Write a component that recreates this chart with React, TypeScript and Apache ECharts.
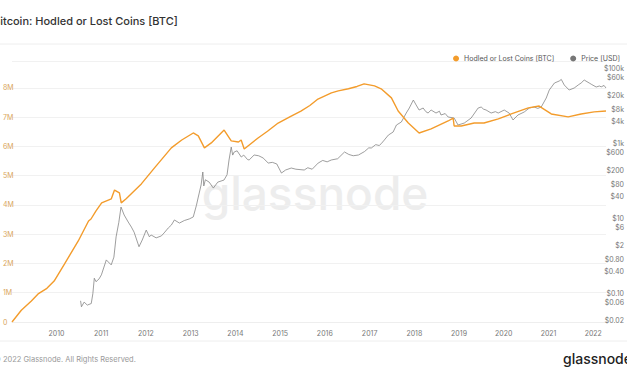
import React, { useEffect, useRef } from "react";
import * as echarts from "echarts";

const hodledDates = [
  "2009-01-03","2009-03-20","2009-06-10","2009-08-04","2009-10-15","2009-12-13","2010-03-07","2010-06-28","2010-09-20",
  "2010-10-10","2010-11-20","2011-01-05","2011-03-25","2011-04-20","2011-05-30","2011-06-14","2011-07-24","2011-11-25",
  "2012-03-10","2012-07-27","2012-10-20","2013-01-22","2013-03-04","2013-04-23","2013-06-18","2013-10-01",
  "2013-11-28","2014-01-26","2014-02-17","2014-03-14","2014-07-05","2014-09-20","2014-12-16","2015-03-25","2015-06-20",
  "2015-09-01","2015-11-06","2016-02-24","2016-04-20","2016-07-12","2016-09-20","2016-11-17","2017-02-10","2017-04-05","2017-06-28",
  "2017-08-22","2017-11-13","2018-02-09","2018-05-18","2018-10-04","2018-11-14","2018-11-22",
  "2019-01-19","2019-05-05","2019-07-24","2019-11-18","2020-03-03","2020-07-20","2020-10-16",
  "2021-01-23","2021-06-10","2021-09-24","2022-01-08","2022-04-15"
];
const hodledValues = [
  0, 0.40, 0.72, 0.96, 1.15, 1.40, 1.98, 2.77, 3.45,
  3.52, 3.80, 4.07, 4.21, 4.51, 4.41, 4.07, 4.21, 4.72,
  5.26, 5.95, 6.22, 6.46, 6.36, 5.95, 6.12, 6.56,
  6.19, 6.15, 6.22, 5.91, 6.29, 6.52, 6.80, 7.02, 7.21,
  7.40, 7.62, 7.83, 7.90, 7.97, 8.05, 8.14, 8.07, 7.97, 7.66,
  7.21, 6.80, 6.46, 6.60, 6.87, 6.97, 6.70,
  6.70, 6.80, 6.80, 6.94, 7.11, 7.32, 7.38,
  7.11, 7.01, 7.11, 7.18, 7.21
]; // millions of BTC

const priceDates = [
  "2010-07-17","2010-07-24","2010-08-15","2010-09-10","2010-10-12","2010-10-25","2010-11-06","2010-11-20","2010-12-15",
  "2011-01-03","2011-02-12","2011-03-24","2011-04-15","2011-05-03","2011-05-25","2011-06-12","2011-07-08","2011-08-10",
  "2011-09-05","2011-09-27","2011-11-06","2011-12-02","2012-01-04","2012-01-30","2012-02-13","2012-03-25","2012-05-07",
  "2012-05-29","2012-07-02","2012-07-27","2012-08-21","2012-10-01","2012-11-10","2012-12-20","2013-01-22","2013-02-17",
  "2013-03-04","2013-03-27","2013-04-10","2013-04-18","2013-05-01","2013-06-01","2013-07-05","2013-08-10","2013-09-30",
  "2013-10-25","2013-11-10","2013-11-28","2013-12-10","2013-12-22","2014-01-15","2014-02-18","2014-03-10","2014-04-10",
  "2014-04-23","2014-06-03","2014-07-10","2014-08-15","2014-09-26","2014-10-30","2014-12-05","2015-01-12","2015-02-15",
  "2015-04-02","2015-05-10","2015-07-17","2015-08-15","2015-09-20","2015-11-08","2015-12-15","2016-01-20","2016-02-23",
  "2016-04-15","2016-06-10","2016-07-15","2016-08-20","2016-10-02","2016-11-20","2016-12-25","2017-01-15","2017-02-20",
  "2017-03-20","2017-04-05","2017-05-01","2017-06-03","2017-07-12","2017-08-08","2017-09-17","2017-10-27","2017-11-21",
  "2017-12-24","2018-01-16","2018-02-09","2018-03-14","2018-04-05","2018-04-23","2018-05-18","2018-06-27","2018-07-25",
  "2018-08-07","2018-09-10","2018-10-04","2018-11-22","2018-12-24","2019-02-13","2019-04-10","2019-06-06","2019-07-01",
  "2019-07-20","2019-08-10","2019-09-20","2019-10-25","2019-11-17","2020-01-05","2020-02-14","2020-03-17","2020-04-26",
  "2020-06-16","2020-07-28","2020-09-05","2020-10-05","2020-11-02","2020-12-13","2021-01-07","2021-02-18","2021-03-29",
  "2021-04-15","2021-05-09","2021-06-18","2021-07-29","2021-09-05","2021-09-24","2021-10-19","2021-11-29","2021-12-20",
  "2022-01-25","2022-02-20","2022-03-07","2022-03-30","2022-04-15"
];
const priceValues = [
  0.065, 0.045, 0.06, 0.05, 0.055, 0.10, 0.26, 0.21, 0.25,
  0.32, 0.80, 0.59, 0.95, 3.3, 8, 20.6, 12.6, 8.2,
  6.0, 4.4, 1.8, 2.7, 5.0, 3.3, 3.7, 3.1, 3.5,
  4.2, 5.7, 6.8, 9.3, 7.7, 9.0, 9.9, 11.2, 23,
  38, 80, 177, 75, 110, 95, 66, 95, 108,
  150, 370, 820, 500, 604, 650, 444, 500, 380,
  370, 503, 480, 420, 307, 320, 290, 166, 200,
  226, 210, 200, 230, 210, 307, 360, 330, 370,
  400, 604, 520, 480, 503, 620, 780, 773, 950,
  900, 1000, 1260, 1710, 2060, 3170, 3810, 6620, 9000,
  14700, 10800, 7960, 9000, 7200, 6620, 7960, 6620, 7400,
  5860, 6400, 5180, 4870, 3170, 3580, 4870, 9000, 9570,
  8400, 7960, 6620, 7200, 6620, 7960, 6620, 4310, 5860,
  7040, 9000, 9570, 8800, 9570, 16600, 27200, 41800, 47200,
  52000, 37000, 27200, 30700, 38000, 41800, 50200, 41800, 38000,
  32700, 34800, 33000, 36000, 30700
]; // USD

const leftTicks = [0, 1, 2, 3, 4, 5, 6, 7, 8];
const leftTickLabels = ["0", "1M", "2M", "3M", "4M", "5M", "6M", "7M", "8M"];
const priceTicks = [0.02, 0.06, 0.1, 0.4, 0.8, 2, 6, 10, 40, 80, 200, 600, 1000, 4000, 8000, 20000, 60000, 100000];
const priceTickLabels = ["$0.02", "$0.06", "$0.10", "$0.40", "$0.80", "$2", "$6", "$10", "$40", "$80", "$200", "$600", "$1k", "$4k", "$8k", "$20k", "$60k", "$100k"];
const yearTicks = ["2010", "2011", "2012", "2013", "2014", "2015", "2016", "2017", "2018", "2019", "2020", "2021", "2022"];

const FONT = "Inter, 'Noto Sans', sans-serif";
const ORANGE = "#f39c2c";
const GREY = "#858585";
const ts = (d: string) => Date.parse(d + "T00:00:00Z");

export default function App() {
  const ref = useRef<HTMLDivElement>(null);
  useEffect(() => {
    document.body.style.margin = "0";
    const chart = echarts.init(ref.current!, null, { renderer: "svg" });
    const hodled = hodledDates.map((d, i) => [ts(d), hodledValues[i] * 1e6]);
    const price = priceDates.map((d, i) => [ts(d), Math.log10(priceValues[i])]);
    const priceLog = priceTicks.map((v) => Math.log10(v));
    const yearTs = yearTicks.map((y) => ts(y + "-01-01"));
    chart.setOption({
      animation: false,
      textStyle: { fontFamily: FONT },
      graphic: [
        { type: "text", left: -7, top: 15, style: { text: "Bitcoin: Hodled or Lost Coins [BTC]", font: `500 11px ${FONT}`, fill: "#333" } },
        { type: "line", shape: { x1: 0, y1: 44, x2: 627, y2: 44 }, style: { stroke: "#eeeeee", lineWidth: 1 } },
        { type: "line", shape: { x1: 0, y1: 341, x2: 627, y2: 341 }, style: { stroke: "#eeeeee", lineWidth: 1 } },
        { type: "text", left: -6, top: 355, style: { text: "© 2022 Glassnode. All Rights Reserved.", font: `7.5px ${FONT}`, fill: "#999" } },
        { type: "text", left: 563, top: 351, style: { text: "glassnode", font: `500 14px ${FONT}`, fill: "#222" } },
        { type: "text", z: -10, x: 315, y: 193, style: { text: "glassnode", font: `500 46px ${FONT}`, fill: "#ededed", align: "center", verticalAlign: "middle" } }
      ],
      legend: {
        right: 2, top: 50, icon: "circle", itemWidth: 6, itemHeight: 6, itemGap: 16,
        textStyle: { fontSize: 7, color: "#555", fontFamily: FONT },
        data: ["Hodled or Lost Coins [BTC]", "Price [USD]"]
      },
      grid: { left: 12, right: 21, top: 61, bottom: 54 },
      xAxis: {
        type: "value",
        min: ts(hodledDates[0]),
        max: ts(hodledDates[hodledDates.length - 1]),
        axisLine: { show: true, lineStyle: { color: "#eeeeee" } },
        axisTick: { show: false },
        splitLine: { show: false },
        axisLabel: {
          customValues: yearTs,
          formatter: (v: number) => String(new Date(v + 86400000).getUTCFullYear()),
          color: "#777", fontSize: 7, margin: 8, fontFamily: FONT
        }
      },
      yAxis: [
        {
          type: "value", min: 0, max: 8.92e6, interval: 1e6,
          axisLine: { show: false }, axisTick: { show: false },
          splitLine: { lineStyle: { color: "#f1f1f1" } },
          axisLabel: {
            align: "left", margin: 9, fontSize: 7, color: "#d9a55c", fontFamily: FONT,
            formatter: (v: number) => {
              const i = leftTicks.indexOf(Math.round(v / 1e5) / 10);
              return i >= 0 && Math.abs(v - leftTicks[i] * 1e6) < 1 ? leftTickLabels[i] : "";
            }
          }
        },
        {
          type: "value", min: -1.752, max: 5.208, position: "right",
          axisLine: { show: false }, axisTick: { show: false }, splitLine: { show: false },
          axisLabel: {
            customValues: priceLog,
            align: "right", margin: 18, fontSize: 7, color: "#777", fontFamily: FONT,
            formatter: (v: number) => {
              let best = 0;
              priceLog.forEach((p, i) => { if (Math.abs(p - v) < Math.abs(priceLog[best] - v)) best = i; });
              return priceTickLabels[best];
            }
          }
        }
      ],
      series: [
        {
          name: "Hodled or Lost Coins [BTC]", type: "line", yAxisIndex: 0, data: hodled,
          showSymbol: false, symbol: "circle", lineStyle: { color: ORANGE, width: 1.4 }, itemStyle: { color: ORANGE }, z: 3
        },
        {
          name: "Price [USD]", type: "line", yAxisIndex: 1, data: price,
          showSymbol: false, symbol: "circle", lineStyle: { color: GREY, width: 0.8 }, itemStyle: { color: "#777" }, z: 2
        }
      ]
    });
    return () => chart.dispose();
  }, []);
  return <div ref={ref} style={{ position: "fixed", left: 0, top: 0, width: 627, height: 376, background: "#fff" }} />;
}
